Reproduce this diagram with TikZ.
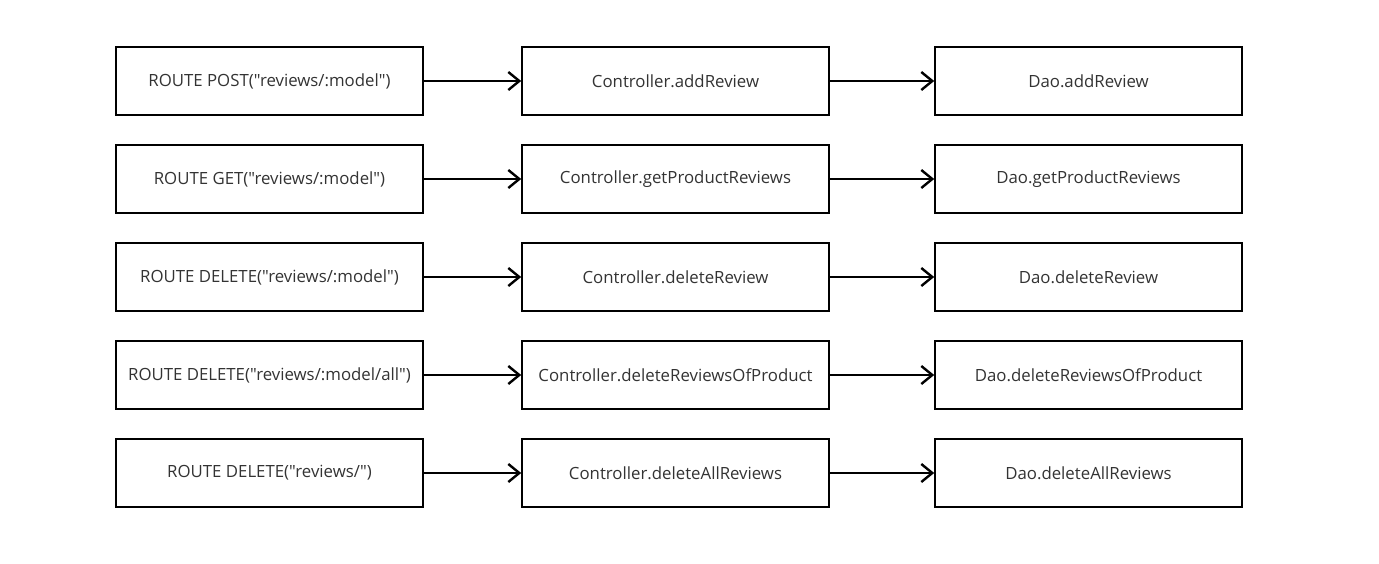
\documentclass[tikz,border=0pt]{standalone}
\usepackage{fontspec}
\setmainfont{Open Sans}[Ligatures=TeXOff]
\usetikzlibrary{arrows.meta}
\definecolor{txt}{HTML}{333333}
\begin{document}
\begin{tikzpicture}[x=1pt,y=-1pt,
  box/.style={draw=black,line width=1.6pt,minimum width=307pt,minimum height=68pt,inner sep=0pt,text=txt,font=\fontsize{16.8}{19}\selectfont},
  conn/.style={line width=2.4pt,-{Straight Barb[length=11pt,width=18pt,line width=2.4pt]}}]
\useasboundingbox (0,0) rectangle (1379,563);
\foreach \r/\y/\a/\b/\c in {
  1/81/{ROUTE POST("reviews/:model")}/{Controller.addReview}/{Dao.addReview},
  2/179/{ROUTE GET("reviews/:model")}/{Controller.getProductReviews}/{Dao.getProductReviews},
  3/277/{ROUTE DELETE("reviews/:model")}/{Controller.deleteReview}/{Dao.deleteReview},
  4/375/{ROUTE DELETE("reviews/:model/all")}/{Controller.deleteReviewsOfProduct}/{Dao.deleteReviewsOfProduct},
  5/473/{ROUTE DELETE("reviews/")}/{Controller.deleteAllReviews}/{Dao.deleteAllReviews}}{
  \node[box] (r\r) at (269.5,\y) {\a};
  \node[box] (c\r) at (675.5,\y) {\b};
  \node[box] (d\r) at (1088.5,\y) {\c};
  \draw[conn] (r\r.east) -- (c\r.west);
  \draw[conn] (c\r.east) -- (d\r.west);
}
\end{tikzpicture}
\end{document}
